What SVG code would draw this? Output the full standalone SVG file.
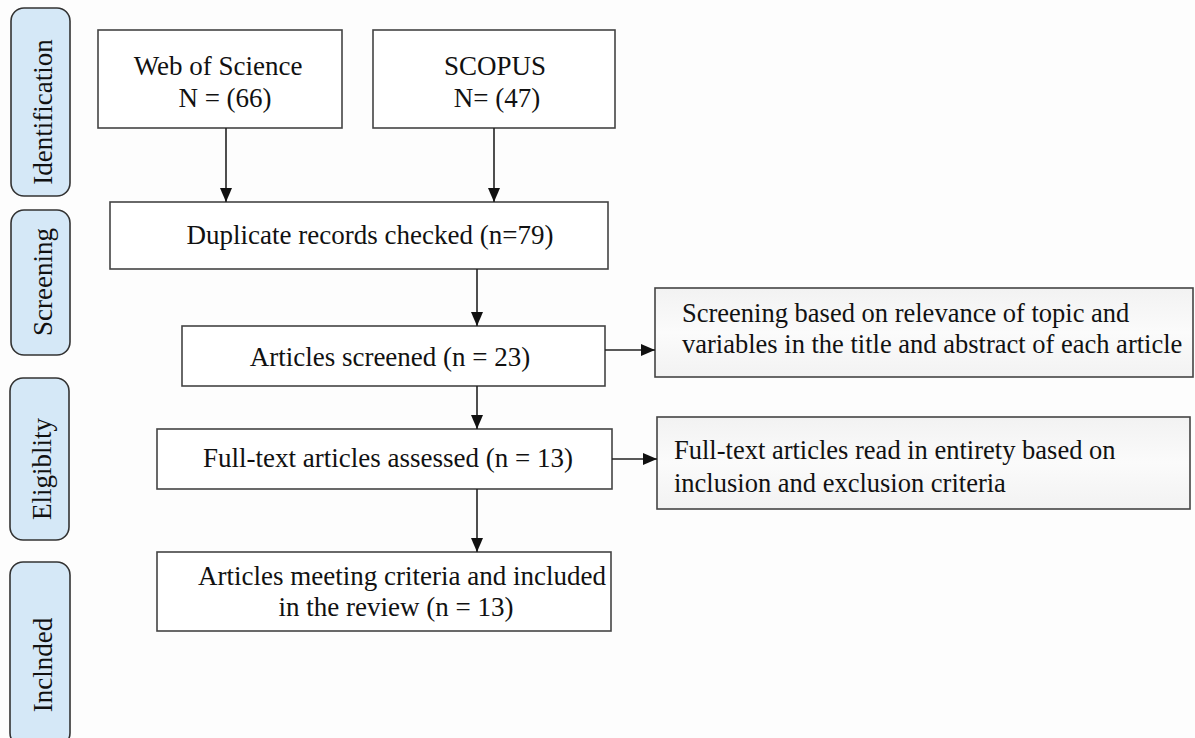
<svg xmlns="http://www.w3.org/2000/svg" width="1195" height="738" viewBox="0 0 1195 738">
<defs>
<marker id="arr" markerUnits="userSpaceOnUse" markerWidth="14" markerHeight="12" refX="14" refY="6" orient="auto">
<path d="M0,0 L14,6 L0,12 z" fill="#111"/>
</marker>
<linearGradient id="gr" x1="0" y1="0" x2="0" y2="1">
<stop offset="0" stop-color="#f2f2f2"/>
<stop offset="0.5" stop-color="#fbfbfb"/>
<stop offset="1" stop-color="#f2f2f2"/>
</linearGradient>
</defs>
<style>
.t{font-family:"Liberation Serif","Times New Roman",serif;font-size:27px;fill:#111}
.s{font-size:26.5px}
.c{text-anchor:middle}
.box{fill:#fff;stroke:#444;stroke-width:1.6}
.side{fill:url(#gr);stroke:#444;stroke-width:1.6}
.lab{fill:#d5e8f7;stroke:#333;stroke-width:1.6}
.ln{stroke:#222;stroke-width:1.6;fill:none;marker-end:url(#arr)}
</style>
<rect width="1195" height="738" fill="#fdfdfd"/>
<g id="stage-identification">
<rect class="lab" x="11" y="8" width="59" height="188" rx="13"/>
<text class="t c" transform="translate(52,112) rotate(-90)">Identification</text>
</g>
<g id="stage-screening">
<rect class="lab" x="11" y="210" width="59" height="145" rx="13"/>
<text class="t c" transform="translate(52,282) rotate(-90)">Screening</text>
</g>
<g id="stage-eligibility">
<rect class="lab" x="10" y="378" width="59" height="162" rx="13"/>
<text class="t c" transform="translate(51,469) rotate(-90)">Eligiblity</text>
</g>
<g id="stage-included">
<rect class="lab" x="10" y="562" width="60" height="184" rx="13"/>
<text class="t c" transform="translate(52,665) rotate(-90)">Inclnded</text>
</g>
<g id="wos">
<rect class="box" x="98" y="30" width="244" height="98"/>
<text class="t c" x="218" y="75">Web of Science</text>
<text class="t c" x="225" y="107">N = (66)</text>
</g>
<g id="scopus">
<rect class="box" x="373" y="30" width="242" height="98"/>
<text class="t c" x="495" y="75">SCOPUS</text>
<text class="t c" x="497" y="107">N= (47)</text>
</g>
<g id="duplicates">
<rect class="box" x="110" y="202" width="498" height="67"/>
<text class="t c" x="370" y="244">Duplicate records checked (n=79)</text>
</g>
<g id="screened">
<rect class="box" x="182" y="326" width="423" height="60"/>
<text class="t c" x="390" y="366">Articles screened (n = 23)</text>
</g>
<g id="screening-note">
<rect class="side" x="655" y="288" width="538" height="89"/>
<text class="t s" x="682" y="322">Screening based on relevance of topic and</text>
<text class="t s" x="682" y="353">variables in the title and abstract of each article</text>
</g>
<g id="fulltext">
<rect class="box" x="157" y="429" width="455" height="60"/>
<text class="t c" x="388" y="467">Full-text articles assessed (n = 13)</text>
</g>
<g id="fulltext-note">
<rect class="side" x="657" y="417" width="533" height="92"/>
<text class="t s" x="674" y="459">Full-text articles read in entirety based on</text>
<text class="t s" x="674" y="492">inclusion and exclusion criteria</text>
</g>
<g id="included">
<rect class="box" x="157" y="552" width="454" height="79"/>
<text class="t c" x="402" y="585">Articles meeting criteria and included</text>
<text class="t c" x="396" y="616">in the review (n = 13)</text>
</g>
<g id="connectors">
<path class="ln" d="M226,128 V202"/>
<path class="ln" d="M494,128 V202"/>
<path class="ln" d="M477,269 V326"/>
<path class="ln" d="M477,386 V429"/>
<path class="ln" d="M477,489 V552"/>
<path class="ln" d="M605,350 H655"/>
<path class="ln" d="M612,459 H657"/>
</g>
</svg>
